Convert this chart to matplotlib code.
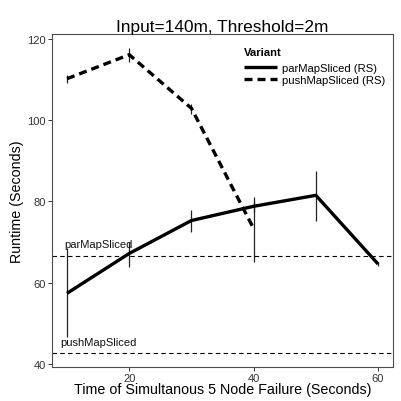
import matplotlib
matplotlib.use("Agg")
import matplotlib.pyplot as plt

plt.rcParams['font.family'] = ['Liberation Sans', 'DejaVu Sans']

# failure time (seconds)
fail_time = [10, 20, 30, 40, 50, 60]

# parMapSliced (RS): mean runtime and error bar extents
par_mean = [57.4, 67.2, 75.3, 78.8, 81.5, 64.6]
par_low = [46.6, 63.8, 72.4, 77.5, 75.2, 64.0]
par_high = [68.6, 70.0, 78.0, 80.2, 87.6, 65.2]

# pushMapSliced (RS)
push_time = [10, 20, 30, 40]
push_mean = [110.2, 116.1, 102.9, 73.3]
push_low = [109.1, 114.2, 101.4, 65.0]
push_high = [111.2, 117.8, 104.0, 81.2]

# reference lines (baseline runtimes without failure)
baseline_names = ['parMapSliced', 'pushMapSliced']
baseline_values = [66.6, 42.6]
baseline_label_y = [69.6, 45.4]

fig = plt.figure(figsize=(4.01, 4.02), dpi=100)
ax = fig.add_axes([0.13, 0.085, 0.85, 0.828])

ax.vlines(fail_time, par_low, par_high, color='#222222', linewidth=0.9)
ax.vlines(push_time, push_low, push_high, color='#222222', linewidth=0.9)

ax.plot(fail_time, par_mean, color='black', linewidth=2.4, label='parMapSliced (RS)',
        solid_capstyle='butt')
ax.plot(push_time, push_mean, color='black', linewidth=2.4, linestyle=(0, (2.4, 1.5)),
        label='pushMapSliced (RS)')

for name, val, ly in zip(baseline_names, baseline_values, baseline_label_y):
    ax.axhline(val, color='black', linewidth=0.8, linestyle=(0, (4, 3)))
    ax.text(15, ly, name, ha='center', va='center', fontsize=8, color='#111111')

ax.set_xlim(7.6, 62.4)
ax.set_ylim(39.3, 121.2)
ax.set_xticks([20, 40, 60])
ax.set_yticks([40, 60, 80, 100, 120])

for sp in ax.spines.values():
    sp.set_color('#4d4d4d')
    sp.set_linewidth(0.8)
ax.tick_params(colors='#333333', labelsize=8, length=3, width=0.7, pad=1.5)

ax.set_title('Input=140m, Threshold=2m', fontsize=12.4, pad=2)
ax.set_xlabel('Time of Simultanous 5 Node Failure (Seconds)', fontsize=10.3, labelpad=-1)
ax.set_ylabel('Runtime (Seconds)', fontsize=10.3, labelpad=2)

leg = ax.legend(title='Variant', loc='upper left', frameon=False, fontsize=8.1,
                handlelength=2.9, handletextpad=0.5, labelspacing=0.15,
                bbox_to_anchor=(0.563, 0.96), borderaxespad=0, borderpad=0)
leg.get_title().set_fontweight('bold')
leg.get_title().set_fontsize(8.1)
leg._legend_box.align = 'left'
leg._legend_box.sep = 4

fig.savefig('out.png', dpi=100)
